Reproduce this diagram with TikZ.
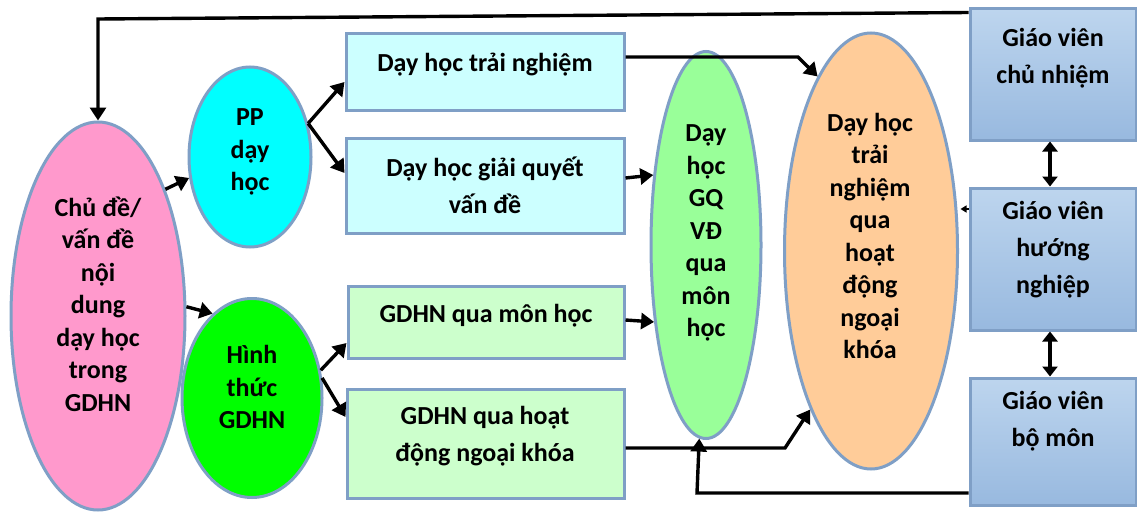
\documentclass[tikz,border=0pt]{standalone}
\usepackage{fontspec}
\setmainfont{Carlito}
\usetikzlibrary{shapes.geometric,arrows.meta,calc}
\definecolor{bd}{HTML}{7F9FC6}
\definecolor{pinkf}{HTML}{FF99CC}
\definecolor{cyanf}{HTML}{00FFFF}
\definecolor{greenf}{HTML}{00FF00}
\definecolor{limef}{HTML}{99FF99}
\definecolor{orangef}{HTML}{FFCC99}
\definecolor{boxc}{HTML}{CCFFFF}
\definecolor{boxg}{HTML}{CCFFCC}
\definecolor{bluet}{HTML}{BDD5EE}
\definecolor{blueb}{HTML}{98B9DF}
\tikzset{
  ell/.style={ellipse, draw=bd, line width=3pt, inner sep=0pt},
  box/.style={rectangle, draw=bd, line width=3pt, inner sep=0pt},
  bluebox/.style={box, top color=bluet, bottom color=blueb},
  etxt/.style={align=center, inner sep=0pt, font=\bfseries\fontsize{26}{32.5}\selectfont},
  btxt/.style={align=center, inner sep=0pt, font=\bfseries\fontsize{26}{37}\selectfont},
  arr/.style={line width=3.4pt, -{Triangle[length=13pt,width=16pt]}},
  darr/.style={line width=3.4pt, {Triangle[length=10pt,width=15pt]}-{Triangle[length=10pt,width=15pt]}}
}
\begin{document}
\begin{tikzpicture}[x=1pt,y=-1pt]
\useasboundingbox[fill=white] (0,0) rectangle (1137,511);
% shapes
\node[ell, fill=pinkf, minimum width=174pt, minimum height=388pt] (pink) at (98,316) {};
\node[ell, fill=cyanf, minimum width=122pt, minimum height=180pt] (cyan) at (250,157) {};
\node[ell, fill=greenf, minimum width=140pt, minimum height=199pt] (hinh) at (252,398) {};
\node[ell, fill=limef, minimum width=110pt, minimum height=387pt] (lime) at (706,245) {};
\node[ell, fill=orangef, minimum width=173pt, minimum height=436pt] (orange) at (871,251) {};
\node[box, fill=boxc, minimum width=278pt, minimum height=76pt] (b1) at (485,72) {};
\node[box, fill=boxc, minimum width=278pt, minimum height=95pt] (b2) at (485,185.5) {};
\node[box, fill=boxg, minimum width=276pt, minimum height=72pt] (b3) at (486,322) {};
\node[box, fill=boxg, minimum width=277pt, minimum height=109pt] (b4) at (485.5,443.5) {};
\node[bluebox, minimum width=166pt, minimum height=131pt] (g1) at (1053,74.5) {};
\node[bluebox, minimum width=166pt, minimum height=142pt] (g2) at (1053,259) {};
\node[bluebox, minimum width=166pt, minimum height=127pt] (g3) at (1053,441.5) {};
% texts
\node[etxt] (tpink) at (98,304) {Chủ đề/\\vấn đề\\nội\\dung\\dạy học\\trong\\GDHN};
\node[etxt] (tcyan) at (250,152) {PP\\dạy\\học};
\node[etxt] (thinh) at (252,387) {Hình\\thức\\GDHN};
\node[etxt] (tlime) at (706,233) {Dạy\\học\\GQ\\VĐ\\qua\\môn\\học};
\node[etxt] (torange) at (870,236) {Dạy học\\trải\\nghiệm\\qua\\hoạt\\động\\ngoại\\khóa};
\node[btxt] (tb1) at (485,65) {Dạy học trải nghiệm};
\node[btxt] (tb2) at (485,185) {Dạy học giải quyết\\vấn đề};
\node[btxt] (tb3) at (486,316) {GDHN qua môn học};
\node[btxt] (tb4) at (485,436) {GDHN qua hoạt\\động ngoại khóa};
\node[btxt] (tg1) at (1053,58) {Giáo viên\\chủ nhiệm};
\node[btxt] (tg2) at (1053,250) {Giáo viên\\hướng\\nghiệp};
\node[btxt] (tg3) at (1053,421) {Giáo viên\\bộ môn};
% connectors
\coordinate (tl) at (98,19);
\coordinate (c1) at (798,57);
\coordinate (c4) at (785,448);
\coordinate (c5) at (697,493);
\draw[arr] ([yshift=-5pt]g1.north west) -- (tl) -- (pink.north);
\draw[arr] (pink.62) -- (cyan.199);
\draw[arr] (pink.6) -- (hinh.115);
\draw[arr] (cyan.30) -- ([yshift=-10pt]b1.west);
\draw[arr] (cyan.30) -- ([yshift=12.5pt]b2.west);
\draw[arr] (hinh.22) -- ([yshift=-21pt]b3.west);
\draw[arr] (hinh.16) -- ([yshift=26.5pt]b4.west);
\draw[arr] ([yshift=15pt]b1.east) -- (c1) -- (orange.107);
\draw[arr] ([yshift=7.5pt]b2.east) -- (lime.127.6);
\draw[arr] ([yshift=2pt]b3.east) -- (lime.236);
\draw[arr] ([yshift=-4.5pt]b4.east) -- (c4) -- (orange.249.4);
\draw[arr] ([yshift=-51.5pt]g3.west) -- (c5) -- (lime.268);
\draw[line width=1.4pt, -{Triangle[length=6pt,width=7pt]}] ([yshift=50pt]g2.west) -- ([xshift=-8pt,yshift=50pt]g2.west);
\draw[darr] ([xshift=-3pt]g1.south) -- ([xshift=-3pt]g2.north);
\draw[darr] ([xshift=-3pt]g2.south) -- ([xshift=-3pt]g3.north);
\end{tikzpicture}
\end{document}
